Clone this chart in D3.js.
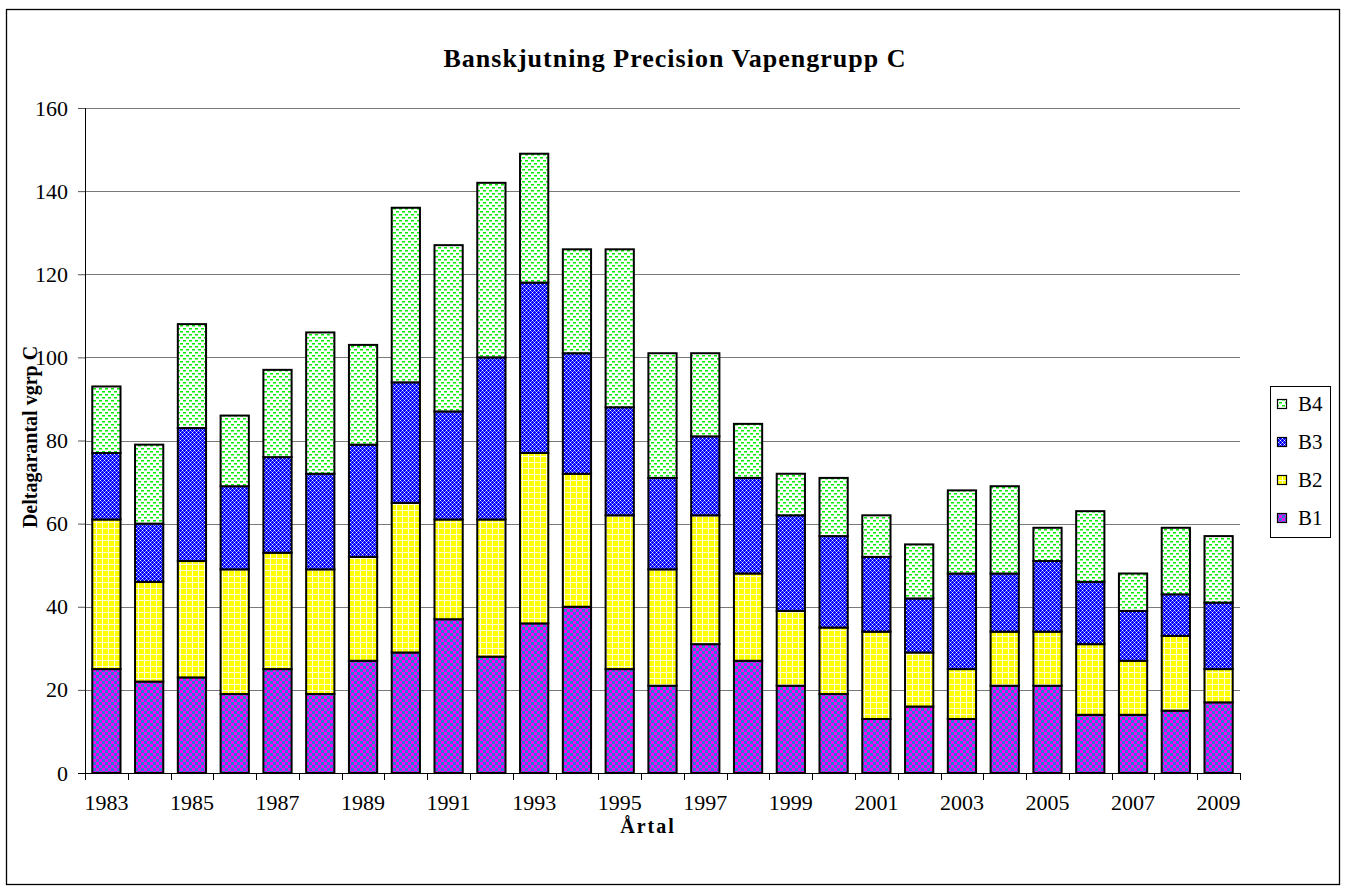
<!DOCTYPE html>
<html>
<head>
<meta charset="utf-8">
<script src="https://cdn.jsdelivr.net/npm/d3@7/dist/d3.min.js"></script>
<style>
body { margin: 0; background: #fff; }
text { font-family: "Liberation Serif", "Times New Roman", serif; fill: #000; }
</style>
</head>
<body>
<svg id="chart" width="1347" height="891"></svg>
<script>

// chart data
var years = [1983, 1984, 1985, 1986, 1987, 1988, 1989, 1990, 1991, 1992, 1993, 1994, 1995, 1996,
             1997, 1998, 1999, 2000, 2001, 2002, 2003, 2004, 2005, 2006, 2007, 2008, 2009];
var b1 = [25, 22, 23, 19, 25, 19, 27, 29, 37, 28, 36, 40, 25, 21, 31, 27, 21, 19, 13, 16, 13, 21, 21, 14, 14, 15, 17];
var b2 = [36, 24, 28, 30, 28, 30, 25, 36, 24, 33, 41, 32, 37, 28, 31, 21, 18, 16, 21, 13, 12, 13, 13, 17, 13, 18, 8];
var b3 = [16, 14, 32, 20, 23, 23, 27, 29, 26, 39, 41, 29, 26, 22, 19, 23, 23, 22, 18, 13, 23, 14, 17, 15, 12, 10, 16];
var b4 = [16, 19, 25, 17, 21, 34, 24, 42, 40, 42, 31, 25, 38, 30, 20, 13, 10, 14, 10, 13, 20, 21, 8, 17, 9, 16, 16];
var seriesNames = ["B1", "B2", "B3", "B4"];
var yTicks = [0, 20, 40, 60, 80, 100, 120, 140, 160];
var xLabels = [1983, 1985, 1987, 1989, 1991, 1993, 1995, 1997, 1999, 2001, 2003, 2005, 2007, 2009];

var chartTitle = "Banskjutning Precision Vapengrupp C";
var yTitle = "Deltagarantal vgrp C";
var xTitle = "Årtal";

var svg = d3.select("#chart");

// hatch patterns, like the old spreadsheet fills
var defs = svg.append("defs");

function makePattern(id, w, h) {
    return defs.append("pattern")
	.attr("id", id)
	.attr("patternUnits", "userSpaceOnUse")
	.attr("width", w)
	.attr("height", h);
}

function dot(p, px, py, col) {
    p.append("rect").attr("x", px).attr("y", py).attr("width", 1).attr("height", 1).attr("fill", col);
}

var p1 = makePattern("fillB1", 6, 6);
p1.append("rect").attr("width", 6).attr("height", 6).attr("fill", "#2a7cd0");
p1.append("rect").attr("width", 3).attr("height", 3).attr("fill", "#ff00ff");
p1.append("rect").attr("x", 3).attr("y", 3).attr("width", 3).attr("height", 3).attr("fill", "#ff00ff");

var p2 = makePattern("fillB2", 6, 6);
p2.append("rect").attr("width", 6).attr("height", 6).attr("fill", "#ffff00");
p2.append("rect").attr("width", 6).attr("height", 1).attr("fill", "#ffffd8");
p2.append("rect").attr("width", 1).attr("height", 6).attr("fill", "#ffffd8");

var p3 = makePattern("fillB3", 4, 4);
p3.append("rect").attr("width", 4).attr("height", 4).attr("fill", "#0000ff");
dot(p3, 0, 0, "#ffffff");
dot(p3, 2, 2, "#ffffff");
dot(p3, 1, 1, "#7c7cff");
dot(p3, 3, 3, "#7c7cff");
dot(p3, 1, 3, "#7c7cff");
dot(p3, 3, 1, "#7c7cff");

var p4 = makePattern("fillB4", 6, 6);
p4.append("rect").attr("width", 6).attr("height", 6).attr("fill", "#ffffff");
p4.append("rect").attr("x", 0).attr("y", 1).attr("width", 3).attr("height", 1.5).attr("fill", "#00f000");
p4.append("rect").attr("x", 3).attr("y", 4).attr("width", 3).attr("height", 1.5).attr("fill", "#00f000");

var fills = { B1: "url(#fillB1)", B2: "url(#fillB2)", B3: "url(#fillB3)", B4: "url(#fillB4)" };

// outer frame
svg.append("rect")
    .attr("x", 6.5).attr("y", 9.5)
    .attr("width", 1333).attr("height", 875)
    .attr("fill", "none")
    .attr("stroke", "#000")
    .attr("stroke-width", 1.3);

var plotLeft = 85, plotRight = 1240, plotTop = 108, plotBottom = 773;

var x = d3.scaleBand()
    .domain(years)
    .range([plotLeft, plotRight])
    .paddingInner(0.34)
    .paddingOuter(0.17);

var y = d3.scaleLinear()
    .domain([0, 160])
    .range([plotBottom, plotTop]);

// gridlines
svg.append("g")
    .selectAll("line")
    .data(yTicks.filter(function(d) { return d > 0; }))
    .enter()
    .append("line")
    .attr("x1", plotLeft).attr("x2", plotRight)
    .attr("y1", function(d) { return Math.round(y(d)) + 0.5; })
    .attr("y2", function(d) { return Math.round(y(d)) + 0.5; })
    .attr("stroke", "#7a7a7a")
    .attr("stroke-width", 1);

// stacked bars
var rows = years.map(function(yr, i) {
    return { year: yr, B1: b1[i], B2: b2[i], B3: b3[i], B4: b4[i] };
});
var stacked = d3.stack().keys(seriesNames)(rows);

var layers = svg.append("g")
    .selectAll("g")
    .data(stacked)
    .enter()
    .append("g")
    .attr("fill", function(d) { return fills[d.key]; });

layers.selectAll("rect")
    .data(function(d) { return d; })
    .enter()
    .append("rect")
    .attr("x", function(d) { return x(d.data.year); })
    .attr("y", function(d) { return y(d[1]); })
    .attr("width", x.bandwidth())
    .attr("height", function(d) { return y(d[0]) - y(d[1]); })
    .attr("stroke", "#000")
    .attr("stroke-width", 2);

// y axis
var yAxis = d3.axisLeft(y)
    .tickValues(yTicks)
    .tickSize(7)
    .tickPadding(10);

var gy = svg.append("g")
    .attr("transform", "translate(" + plotLeft + ",0)")
    .call(yAxis);
gy.select(".domain").attr("stroke", "#000").attr("d", "M0.5," + plotTop + "V" + plotBottom);
gy.selectAll(".tick line").attr("stroke", "#555");
gy.selectAll(".tick text")
    .style("font-family", "'Liberation Serif', 'Times New Roman', serif")
    .style("font-size", "22px")
    .attr("fill", "#000");

// x axis line and category boundary ticks
var step = x.step();
var edge = (step - x.bandwidth()) / 2;
var bounds = years.map(function(yr) { return x(yr) - edge; });
bounds.push(x(years[years.length - 1]) + x.bandwidth() + edge);

svg.append("line")
    .attr("x1", plotLeft - 7).attr("x2", plotRight)
    .attr("y1", plotBottom + 0.5).attr("y2", plotBottom + 0.5)
    .attr("stroke", "#000")
    .attr("stroke-width", 1.2);

svg.append("g")
    .selectAll("line")
    .data(bounds)
    .enter()
    .append("line")
    .attr("x1", function(d) { return Math.round(d) + 0.5; })
    .attr("x2", function(d) { return Math.round(d) + 0.5; })
    .attr("y1", plotBottom)
    .attr("y2", plotBottom + 7)
    .attr("stroke", "#000");

svg.append("g")
    .selectAll("text")
    .data(xLabels)
    .enter()
    .append("text")
    .attr("x", function(d) { return x(d) + x.bandwidth() / 2; })
    .attr("y", plotBottom + 37)
    .attr("text-anchor", "middle")
    .style("font-size", "22px")
    .text(function(d) { return d; });

// titles
svg.append("text")
    .attr("x", 675).attr("y", 67)
    .attr("text-anchor", "middle")
    .style("font-size", "26px")
    .style("font-weight", "bold")
    .style("letter-spacing", "1px")
    .text(chartTitle);

svg.append("text")
    .attr("x", 648).attr("y", 833)
    .attr("text-anchor", "middle")
    .style("font-size", "20px")
    .style("font-weight", "bold")
    .style("letter-spacing", "2px")
    .text(xTitle);

svg.append("text")
    .attr("transform", "translate(37,437) rotate(-90)")
    .attr("text-anchor", "middle")
    .style("font-size", "20px")
    .style("font-weight", "bold")
    .text(yTitle);

// legend
var legend = svg.append("g").attr("transform", "translate(1270,386)");
legend.append("rect")
    .attr("x", 0.5).attr("y", 0.5)
    .attr("width", 60).attr("height", 151)
    .attr("fill", "#fff")
    .attr("stroke", "#000");

var legendKeys = seriesNames.slice().reverse();
var items = legend.selectAll("g.item")
    .data(legendKeys)
    .enter()
    .append("g")
    .attr("class", "item")
    .attr("transform", function(d, i) { return "translate(0," + (18 + i * 38) + ")"; });

items.append("rect")
    .attr("x", 7.5).attr("y", -4.5)
    .attr("width", 9).attr("height", 9)
    .attr("fill", function(d) { return fills[d]; })
    .attr("stroke", "#000")
    .attr("stroke-width", 1.2);

items.append("text")
    .attr("x", 28).attr("y", 7)
    .style("font-size", "21px")
    .text(function(d) { return d; });

</script>
</body>
</html>
